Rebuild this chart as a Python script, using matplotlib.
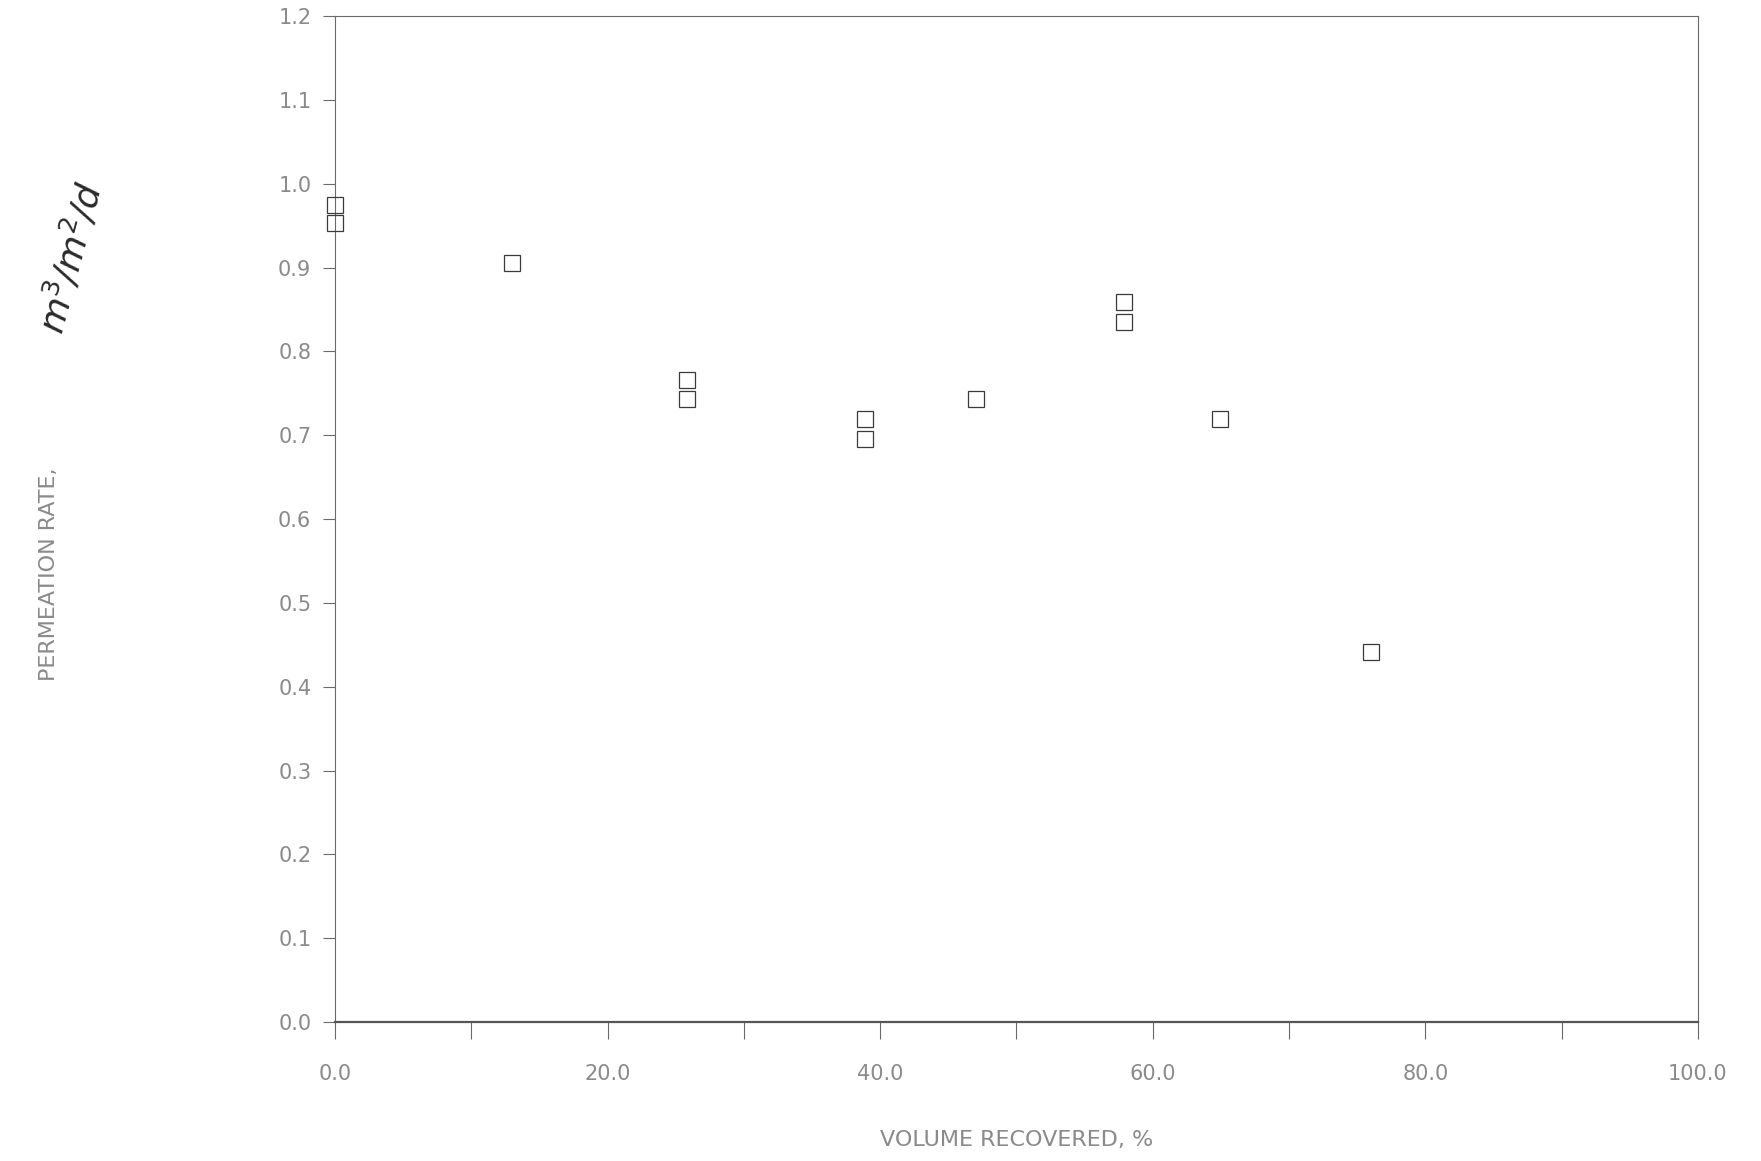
import numpy as np
import matplotlib.pyplot as plt

# volume recovered (%) vs permeation rate (m3/m2/d)
vol_recovered = [0.0, 0.0, 13.0, 25.8, 25.8, 38.9, 38.9, 47.0, 57.9, 57.9, 64.9, 76.0]
perm_rate = [0.975, 0.953, 0.905, 0.766, 0.743, 0.719, 0.696, 0.743, 0.859, 0.835, 0.719, 0.441]

xticks = np.arange(0, 101, 20)
xminor = np.arange(0, 101, 10)
yticks = np.arange(0, 1.21, 0.1)

txt = '#8a8a8a'
line = '#6a6a6a'

fig = plt.figure(figsize=(17.61, 11.61), dpi=100)
ax = fig.add_axes([0.1902, 0.1197, 0.7740, 0.8665])

ax.plot(vol_recovered, perm_rate, 's', ms=12, mfc='none', mec='#3a3a3a', mew=0.9,
        clip_on=False, zorder=5)

ax.set_xlim(0, 100)
ax.set_ylim(0, 1.2)
ax.set_xticks(xticks)
ax.set_xticks(xminor, minor=True)
ax.set_xticklabels(['%.1f' % v for v in xticks])
ax.set_yticks(yticks)
ax.set_yticklabels(['%.1f' % v for v in yticks])

ax.tick_params(axis='x', which='both', direction='out', length=12, width=0.8,
               color=line, pad=18, labelsize=15, labelcolor=txt)
ax.tick_params(axis='y', direction='out', length=9, width=0.8,
               color=line, pad=8, labelsize=15, labelcolor=txt)

for side in ['top', 'left', 'right']:
    ax.spines[side].set_color(line)
    ax.spines[side].set_linewidth(0.8)
ax.spines['bottom'].set_color('#555555')
ax.spines['bottom'].set_linewidth(1.6)

ax.set_xlabel('VOLUME RECOVERED, %', fontsize=16, color=txt, labelpad=33)
fig.text(0.028, 0.505, 'PERMEATION RATE,', rotation=90, fontsize=16, color=txt,
         ha='center', va='center')
# handwritten units
fig.text(0.040, 0.778, 'm$^3$/m$^2$/d', rotation=75, fontsize=26, color='#2a2a2a',
         ha='center', va='center', style='italic')

fig.savefig('out.png', dpi=100)
